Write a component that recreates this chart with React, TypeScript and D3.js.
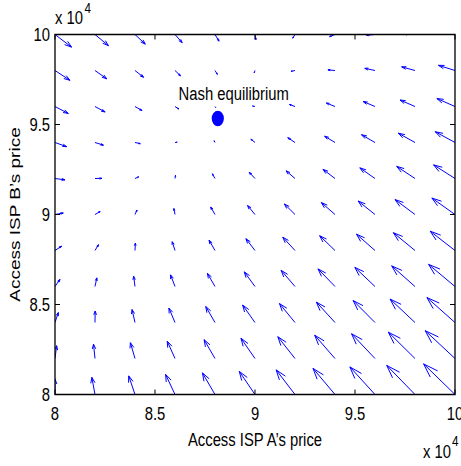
import React from 'react';
import * as d3 from 'd3';

// Grid of arrow tails (prices)
const xGrid = [80000, 82000, 84000, 86000, 88000, 90000, 92000, 94000, 96000, 98000, 100000];
const yGrid = [80000, 82000, 84000, 86000, 88000, 90000, 92000, 94000, 96000, 98000, 100000];

// U[k][j]: horizontal component at (xGrid[j], yGrid[k])
const U = [
  [0, -2000, -4000, -6000, -8000, -10000, -12000, -14000, -16000, -18000, -20000],
  [1060, -940, -2940, -4940, -6940, -8940, -10940, -12940, -14940, -16940, -18940],
  [2110, 110, -1890, -3890, -5890, -7890, -9890, -11890, -13890, -15890, -17890],
  [3170, 1170, -830, -2830, -4830, -6830, -8830, -10830, -12830, -14830, -16830],
  [4220, 2220, 220, -1780, -3780, -5780, -7780, -9780, -11780, -13780, -15780],
  [5280, 3280, 1280, -720, -2720, -4720, -6720, -8720, -10720, -12720, -14720],
  [6340, 4340, 2340, 340, -1660, -3660, -5660, -7660, -9660, -11660, -13660],
  [7390, 5390, 3390, 1390, -610, -2610, -4610, -6610, -8610, -10610, -12610],
  [8450, 6450, 4450, 2450, 450, -1550, -3550, -5550, -7550, -9550, -11550],
  [9500, 7500, 5500, 3500, 1500, -500, -2500, -4500, -6500, -8500, -10500],
  [10560, 8560, 6560, 4560, 2560, 560, -1440, -3440, -5440, -7440, -9440],
];

// V[k][j]: vertical component at (xGrid[j], yGrid[k])
const V = [
  [11050, 12110, 13170, 14230, 15290, 16350, 17410, 18470, 19530, 20590, 21650],
  [9050, 10110, 11170, 12230, 13290, 14350, 15410, 16470, 17530, 18590, 19650],
  [7050, 8110, 9170, 10230, 11290, 12350, 13410, 14470, 15530, 16590, 17650],
  [5050, 6110, 7170, 8230, 9290, 10350, 11410, 12470, 13530, 14590, 15650],
  [3050, 4110, 5170, 6230, 7290, 8350, 9410, 10470, 11530, 12590, 13650],
  [1050, 2110, 3170, 4230, 5290, 6350, 7410, 8470, 9530, 10590, 11650],
  [-950, 110, 1170, 2230, 3290, 4350, 5410, 6470, 7530, 8590, 9650],
  [-2950, -1890, -830, 230, 1290, 2350, 3410, 4470, 5530, 6590, 7650],
  [-4950, -3890, -2830, -1770, -710, 350, 1410, 2470, 3530, 4590, 5650],
  [-6950, -5890, -4830, -3770, -2710, -1650, -590, 470, 1530, 2590, 3650],
  [-8950, -7890, -6830, -5770, -4710, -3650, -2590, -1530, -470, 590, 1650],
];

const xTicks = [80000, 85000, 90000, 95000, 100000];
const yTicks = [80000, 85000, 90000, 95000, 100000];
const xTickLabels = ['8', '8.5', '9', '9.5', '10'];
const yTickLabels = ['8', '8.5', '9', '9.5', '10'];

const nashPoint = { x: 88140, y: 95330 };
const nashLabel = 'Nash equilibrium';
const nashLabelPos = { x: 86180, y: 96690 };

const xLabel = 'Access ISP A\u2019s price';
const yLabel = 'Access ISP B\u2019s price';

const W = 461;
const H = 466;
const SX = 0.78; // horizontal compression of the whole figure
const ix = (px: number) => px / SX;

const FONT = "'Liberation Sans', Arial, Helvetica, sans-serif";
const FS = 19;

export default function App() {
  const left = 55, right = 455, top = 34.5, bottom = 394.5;
  const x = d3.scaleLinear().domain([80000, 100000]).range([ix(left), ix(right)]);
  const y = d3.scaleLinear().domain([80000, 100000]).range([bottom, top]);

  // MATLAB-style quiver autoscale
  const n = Math.sqrt(xGrid.length * yGrid.length);
  const delx = (d3.max(xGrid)! - d3.min(xGrid)!) / n;
  const dely = (d3.max(yGrid)! - d3.min(yGrid)!) / n;
  const del = delx * delx + dely * dely;
  let maxlen = 0;
  U.forEach((row, k) => row.forEach((u, j) => {
    const v = V[k][j];
    const len = Math.sqrt((u * u + v * v) / del);
    if (len > maxlen) maxlen = len;
  }));
  const scale = maxlen > 0 ? 0.9 / maxlen : 1;
  const alpha = 0.33, beta = 0.33, eps = 2.2e-16;

  const shafts: string[] = [];
  const heads: string[] = [];
  yGrid.forEach((yy, k) => {
    xGrid.forEach((xx, j) => {
      const u = U[k][j] * scale;
      const v = V[k][j] * scale;
      const ex = xx + u, ey = yy + v;
      shafts.push(`M${x(xx)},${y(yy)}L${x(ex)},${y(ey)}`);
      const h1x = ex - alpha * (u + beta * (v + eps));
      const h1y = ey - alpha * (v - beta * (u + eps));
      const h2x = ex - alpha * (u - beta * (v + eps));
      const h2y = ey - alpha * (v + beta * (u + eps));
      heads.push(`M${x(h1x)},${y(h1y)}L${x(ex)},${y(ey)}L${x(h2x)},${y(h2y)}`);
    });
  });

  const tickLen = 5;
  const nse = { vectorEffect: 'non-scaling-stroke' as const };

  return (
    <svg width={W} height={H} style={{ position: 'absolute', left: 0, top: 0, background: '#fff' }}
      fontFamily={FONT}>
      <rect x={0} y={0} width={W} height={H} fill="#fff" />
      <defs>
        <clipPath id="plotclip">
          <rect x={ix(left)} y={top} width={ix(right) - ix(left)} height={bottom - top} />
        </clipPath>
      </defs>
      <g transform={`scale(${SX},1)`}>
        <g clipPath="url(#plotclip)">
          <path d={shafts.join('')} stroke="#0000ff" strokeWidth={1} fill="none" style={nse} />
          <path d={heads.join('')} stroke="#0000ff" strokeWidth={1} fill="none" style={nse} />
        </g>
        <ellipse cx={x(nashPoint.x)} cy={y(nashPoint.y)} rx={7.8} ry={7.8} fill="#0000ff" />
        <text x={x(nashLabelPos.x)} y={y(nashLabelPos.y)} fontSize={FS} dominantBaseline="central" fill="#000">
          {nashLabel}
        </text>

        {/* axes box */}
        <rect x={ix(left)} y={top} width={ix(right) - ix(left)} height={bottom - top}
          fill="none" stroke="#000" strokeWidth={1.3} style={nse} />

        {/* x ticks */}
        {xTicks.map((t, i) => (
          <g key={'xt' + i}>
            <line x1={x(t)} x2={x(t)} y1={bottom} y2={bottom - tickLen} stroke="#000" strokeWidth={1} style={nse} />
            <line x1={x(t)} x2={x(t)} y1={top} y2={top + tickLen} stroke="#000" strokeWidth={1} style={nse} />
            <text x={x(t)} y={420} fontSize={FS} textAnchor="middle" fill="#000">{xTickLabels[i]}</text>
          </g>
        ))}
        {/* y ticks */}
        {yTicks.map((t, i) => (
          <g key={'yt' + i}>
            <line x1={ix(left)} x2={ix(left) + tickLen / SX} y1={y(t)} y2={y(t)} stroke="#000" strokeWidth={1} style={nse} />
            <line x1={ix(right)} x2={ix(right) - tickLen / SX} y1={y(t)} y2={y(t)} stroke="#000" strokeWidth={1} style={nse} />
            <text x={ix(50)} y={y(t) + 6.8} fontSize={FS} textAnchor="end" fill="#000">{yTickLabels[i]}</text>
          </g>
        ))}

        {/* exponent labels */}
        <text x={ix(55)} y={24} fontSize={FS} fill="#000">x 10</text>
        <text x={ix(84.5)} y={13} fontSize={15} fill="#000">4</text>
        <text x={ix(423)} y={458.5} fontSize={FS} fill="#000">x 10</text>
        <text x={ix(452)} y={446} fontSize={15} textAnchor="start" fill="#000">4</text>

        {/* axis labels */}
        <text x={ix(255)} y={446} fontSize={FS} textAnchor="middle" fill="#000">{xLabel}</text>
        <text transform={`translate(${ix(20)},${(top + bottom) / 2}) rotate(-90)`} fontSize={FS}
          textAnchor="middle" fill="#000">{yLabel}</text>
      </g>
    </svg>
  );
}
